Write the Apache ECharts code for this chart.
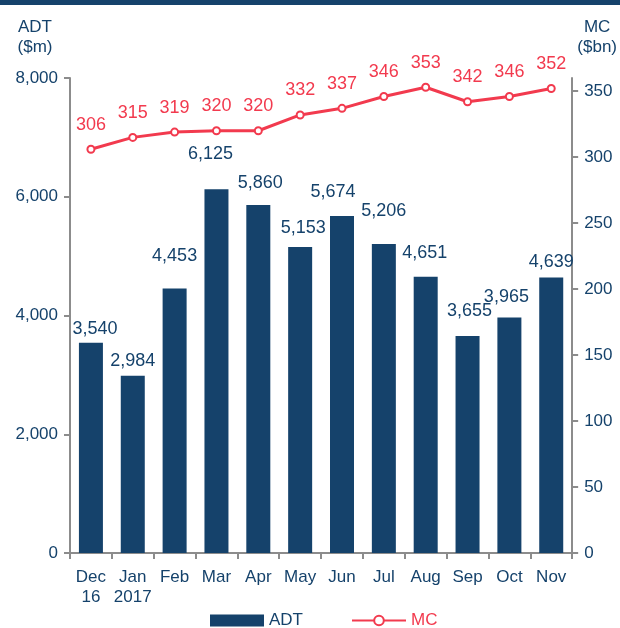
<!DOCTYPE html>
<html>
<head>
<meta charset="utf-8">
<script src="https://cdn.jsdelivr.net/npm/echarts@6/dist/echarts.min.js"></script>
<style>
  html, body { margin: 0; padding: 0; background: #fff; }
  #chart { width: 620px; height: 628px; }
</style>
</head>
<body>
<div id="chart"></div>
<script>
const months = ['Dec\n16', 'Jan\n2017', 'Feb', 'Mar', 'Apr', 'May', 'Jun', 'Jul', 'Aug', 'Sep', 'Oct', 'Nov']
const adt = [3540, 2984, 4453, 6125, 5860, 5153, 5674, 5206, 4651, 3655, 3965, 4639]
const mc = [306, 315, 319, 320, 320, 332, 337, 346, 353, 342, 346, 352]
const mcTicks = [0, 50, 100, 150, 200, 250, 300, 350]

// hand-placed bar labels in the original, nudged [x, y] in px
const adtLabelNudge = [[4, 5], [0, 4], [0, -14], [-6, -16], [2, -3], [3, 0], [-9, -5], [0, -14], [-1, -5], [2, -6], [-3, -2], [0, 3]]

const navy = '#15426b'
const red = '#f23a4e'
const axisGrey = '#8c8c8c'
const font = 'Liberation Sans, Arial, sans-serif'

const chart = echarts.init(document.getElementById('chart'))
chart.setOption({
  animation: false,
  textStyle: { fontFamily: font },
  graphic: [{
    type: 'rect',
    left: 0,
    top: 0,
    shape: { width: 620, height: 5 },
    style: { fill: navy }
  }],
  grid: { left: 70, right: 47, top: 78, bottom: 75 },
  legend: {
    bottom: -6,
    left: 205,
    itemGap: 48,
    itemWidth: 54,
    itemHeight: 12,
    textStyle: { fontSize: 17, fontFamily: font },
    data: [
      { name: 'ADT', icon: 'rect', itemStyle: { color: navy }, textStyle: { color: navy } },
      { name: 'MC', textStyle: { color: red } }
    ]
  },
  xAxis: {
    type: 'category',
    data: months,
    axisLine: { lineStyle: { color: axisGrey, width: 2 } },
    axisTick: { show: true, length: 6, lineStyle: { color: axisGrey, width: 2 } },
    axisLabel: { color: navy, fontSize: 17, lineHeight: 20, margin: 14, interval: 0 }
  },
  yAxis: [{
    type: 'value',
    min: 0,
    max: 8000,
    interval: 2000,
    name: 'ADT\n($m)',
    nameLocation: 'end',
    nameGap: 21,
    nameTextStyle: { color: navy, fontSize: 17, lineHeight: 20, align: 'center', padding: [0, 0, 0, -70] },
    axisLine: { show: true, lineStyle: { color: axisGrey, width: 2 } },
    axisTick: { show: true, length: 6, lineStyle: { color: axisGrey, width: 2 } },
    splitLine: { show: false },
    axisLabel: {
      color: navy, fontSize: 17, margin: 12,
      formatter: v => v.toLocaleString('en-US')
    }
  }, {
    type: 'value',
    min: 0,
    max: 360,
    name: 'MC\n($bn)',
    nameLocation: 'end',
    nameGap: 21,
    nameTextStyle: { color: navy, fontSize: 17, lineHeight: 20, align: 'center', padding: [0, -50, 0, 0] },
    axisLine: { show: true, lineStyle: { color: axisGrey, width: 2 } },
    axisTick: { show: true, length: 6, customValues: mcTicks, lineStyle: { color: axisGrey, width: 2 } },
    splitLine: { show: false },
    axisLabel: { color: navy, fontSize: 17, margin: 12, customValues: mcTicks }
  }],
  series: [{
    name: 'ADT',
    type: 'bar',
    data: adt.map((v, i) => ({ value: v, label: { offset: adtLabelNudge[i] } })),
    barWidth: 24,
    itemStyle: { color: navy },
    label: {
      show: true,
      position: 'top',
      distance: 10,
      color: navy,
      fontSize: 18,
      formatter: p => p.value.toLocaleString('en-US')
    }
  }, {
    name: 'MC',
    type: 'line',
    yAxisIndex: 1,
    data: mc,
    symbol: 'emptyCircle',
    symbolSize: 7,
    lineStyle: { color: red, width: 3 },
    itemStyle: { color: red, borderWidth: 3.5 },
    label: {
      show: true,
      position: 'top',
      distance: 11,
      color: red,
      fontSize: 18
    }
  }]
})
</script>
</body>
</html>
